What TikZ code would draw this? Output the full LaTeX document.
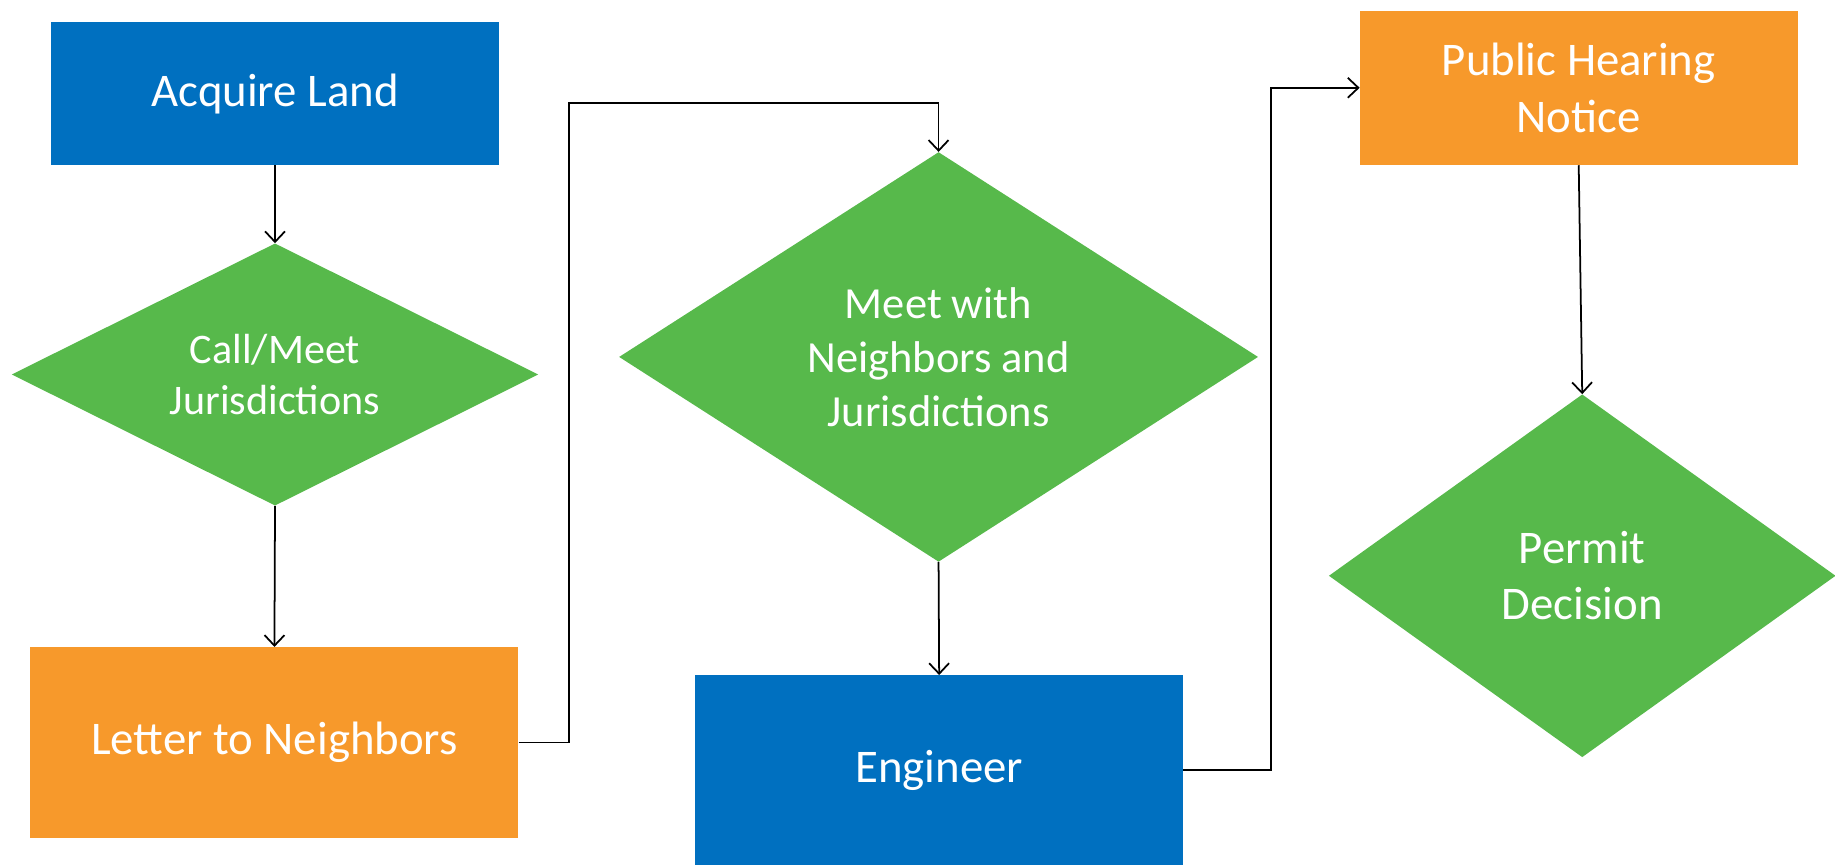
\documentclass[tikz,border=0pt]{standalone}
\usepackage{fontspec}
\setmainfont{Carlito}
\usetikzlibrary{shapes.geometric,arrows.meta}

\definecolor{stepblue}{HTML}{0070C0}
\definecolor{steporange}{HTML}{F7992B}
\definecolor{stepgreen}{HTML}{57B94B}

\begin{document}
\begin{tikzpicture}[x=1pt,y=-1pt,
   procbox/.style={rectangle,text=white,align=center,inner sep=0pt,
    font=\fontsize{40}{49}\selectfont},
   decision/.style={diamond,fill=stepgreen,text=white,align=center,inner sep=0pt},
   flow/.style={line width=1.5pt,-{Straight Barb[length=9pt,width=17pt]}}
    ]
  \useasboundingbox (0,0) rectangle (1568,739);

  % -- left column
  \node[procbox,fill=stepblue,minimum width=382pt,minimum height=122pt] at (235,80) (land) {Acquire Land};
  \node[decision,aspect=2,minimum width=450pt,minimum height=224pt,
    font=\fontsize{36}{43}\selectfont] at (235,320) (call) {Call/Meet\\Jurisdictions};
  \node[procbox,fill=steporange,minimum width=417pt,minimum height=163pt] at (234.5,634.5) (letter) {Letter to Neighbors};

  % -- middle column
  \node[decision,aspect=1.56,minimum width=546pt,minimum height=350pt,
    font=\fontsize{38}{46}\selectfont] at (802,305) (meet) {Meet with\\Neighbors and\\Jurisdictions};
  \node[procbox,fill=stepblue,minimum width=417pt,minimum height=162pt] at (802.5,658) (eng) {Engineer};

  % -- right column
  \node[procbox,fill=steporange,minimum width=374pt,minimum height=132pt] at (1349,75) (hearing) {Public Hearing\\Notice};
  \node[decision,aspect=1.4,minimum width=433pt,minimum height=310pt,
    font=\fontsize{40}{48}\selectfont] at (1352,492) (permit) {Permit\\Decision};

  % -- arrows
  \coordinate (up1) at (486,88);
  \coordinate (up2) at (1086,75);
  \draw[flow] (land.south) -- (call.north);
  \draw[flow] (call.south) -- (letter.north);
  \draw[flow] (letter.east) -| (up1) -| (meet.north);
  \draw[flow] (meet.south) -- (eng.north);
  \draw[flow] (eng.east) -| (up2) -- (hearing.west);
  \draw[flow] (hearing.south) -- (permit.north);

\end{tikzpicture}
\end{document}
